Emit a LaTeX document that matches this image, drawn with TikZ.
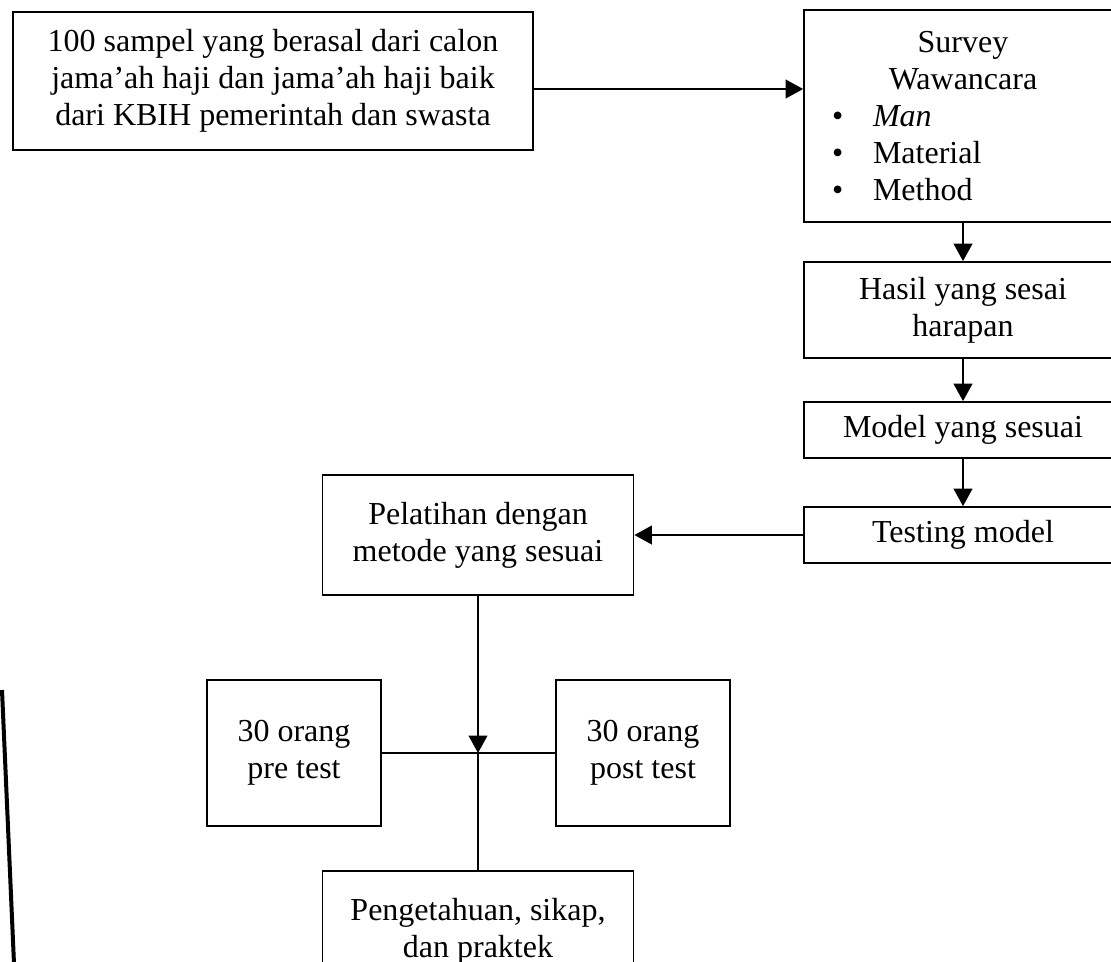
\documentclass[tikz,border=0pt]{standalone}
\usepackage{fontspec}
\setmainfont{Liberation Serif}
\usetikzlibrary{arrows.meta,positioning}
\newcommand{\butir}[1]{\hspace*{11.2pt}\makebox[16.4pt][l]{\textbullet}#1}
\newcommand{\tengah}[1]{\makebox[127.2pt][c]{#1}}

\begin{document}
\begin{tikzpicture}[
    x=0.4pt, y=-0.4pt,
    box/.style={draw, rectangle, line width=0.7pt, align=center, inner sep=2pt,
        font=\fontsize{12.8pt}{14.8pt}\selectfont},
    kanan/.style={box, minimum width=127.2pt},
    flow/.style={line width=0.7pt, -{Triangle[length=7pt, width=7.5pt]}},
    garis/.style={line width=0.7pt}]
\useasboundingbox (0,0) rectangle (1111,961);
\clip (0,0) rectangle (1111,961);

\node[box, minimum width=208pt, minimum height=55.2pt] (sampel) at (273,81)
    {100 sampel yang berasal dari calon\\jama'ah haji dan jama'ah haji baik\\dari KBIH pemerintah dan swasta};

% kolom kanan
\node[kanan, minimum height=84.8pt, align=left, inner xsep=0pt, text width=127.2pt] (survey) at (963,116)
    {\tengah{Survey}\\\tengah{Wawancara}\\\butir{\textit{Man}}\\\butir{Material}\\\butir{Method}};
\node[kanan, minimum height=38.4pt] (hasil) at (963,310) {Hasil yang sesai\\harapan};
\node[kanan, minimum height=22.4pt] (model) at (963,430) {Model yang sesuai};
\node[kanan, minimum height=22.4pt] (testing) at (963,535) {Testing model};

% kolom tengah
\node[box, minimum width=124.4pt, minimum height=48pt] (pelatihan) at (478,535)
    {Pelatihan dengan\\metode yang sesuai};
\node[box, minimum width=69.6pt, minimum height=58.4pt] (pre) at (294,753) {30 orang\\pre test};
\node[box, minimum width=69.6pt, minimum height=58.4pt] (post) at (643,753) {30 orang\\post test};
\node[box, minimum width=124.4pt, minimum height=48pt] (akhir) at (478,931)
    {Pengetahuan, sikap,\\dan praktek};
\coordinate (simpul) at (pelatihan.south |- pre.east);

\path[draw, flow] ([yshift=-3.2pt]sampel.east) -- ([yshift=-3.2pt]sampel.east -| survey.west);
\path[draw, flow] (survey) -- (hasil);
\path[draw, flow] (hasil) -- (model);
\path[draw, flow] (model) -- (testing);
\path[draw, flow] (testing) -- (pelatihan);
\path[draw, flow] (pelatihan) -- (simpul);
\path[draw, garis] (simpul) -- (akhir);
\path[draw, garis] (pre) -- (post);

% garis tepi kiri
\path[draw, line width=1.6pt] (2,690) -- (14.5,975);

\end{tikzpicture}
\end{document}
